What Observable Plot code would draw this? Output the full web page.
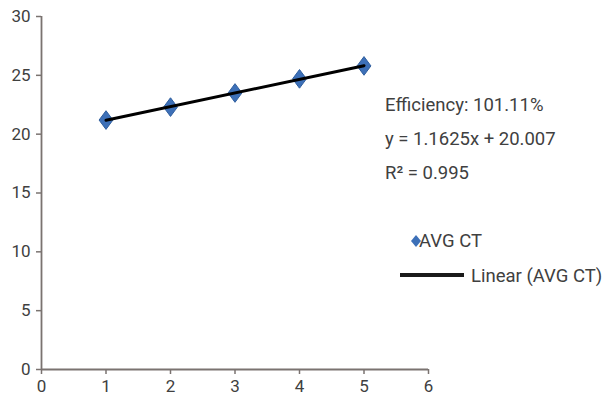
<!DOCTYPE html>
<html>
<head>
<meta charset="utf-8">
<script src="https://cdn.jsdelivr.net/npm/d3@7"></script>
<script src="https://cdn.jsdelivr.net/npm/@observablehq/plot@0.6"></script>
<style>
  html, body { margin: 0; padding: 0; background: #fff; }
  #wrap { position: relative; width: 603px; height: 395px; overflow: hidden; font-family: Roboto, sans-serif; color: #404040; }
  .ann { position: absolute; font-size: 18.5px; line-height: 20px; white-space: nowrap; }
</style>
</head>
<body>
<div id="wrap"></div>
<script>
const dilution = [1, 2, 3, 4, 5];
const avgCT = [21.2, 22.3, 23.5, 24.7, 25.8];
const xTicks = [0, 1, 2, 3, 4, 5, 6];
const yTicks = [0, 5, 10, 15, 20, 25, 30];
const annotationLines = ["Efficiency: 101.11%", "y = 1.1625x + 20.007", "R² = 0.995"];
const legendLabels = ["AVG CT", "Linear (AVG CT)"];

const data = dilution.map((x, i) => ({x, y: avgCT[i]}));

const tallDiamond = {
  draw(ctx, size) {
    const w = Math.sqrt(size) / 2;
    const h = w * 1.35;
    ctx.moveTo(0, -h); ctx.lineTo(w, 0); ctx.lineTo(0, h); ctx.lineTo(-w, 0); ctx.closePath();
  }
};

const axisColor = "#7a7370";

const chart = Plot.plot({
  width: 603,
  height: 395,
  marginLeft: 41,
  marginRight: 175,
  marginTop: 16,
  marginBottom: 26,
  style: { fontFamily: "Roboto, sans-serif", fontSize: "17px", color: "#404040", background: "transparent", overflow: "visible" },
  x: { domain: [0, 6] },
  y: { domain: [0, 30] },
  marks: [
    Plot.axisX({ ticks: xTicks, tickFormat: d3.format("d"), tickSize: 5, tickPadding: 5, stroke: axisColor, strokeWidth: 1.5, label: null, fill: "#404040" }),
    Plot.axisY({ ticks: yTicks, tickFormat: d3.format("d"), tickSize: 5, tickPadding: 6, stroke: axisColor, strokeWidth: 1.5, label: null, fill: "#404040" }),
    Plot.ruleY([0], { stroke: axisColor, strokeWidth: 1.8 }),
    Plot.ruleX([0], { stroke: axisColor, strokeWidth: 1.8 }),
    Plot.dot(data, { x: "x", y: "y", r: 7.8, symbol: tallDiamond, fill: "#3d70b8", stroke: "#2f5e9e", strokeWidth: 1 }),
    Plot.linearRegressionY(data, { x: "x", y: "y", ci: 0, stroke: "#000", strokeWidth: 3 })
  ]
});

const wrap = document.getElementById("wrap");
wrap.appendChild(chart);

// Trendline annotation
annotationLines.forEach((t, i) => {
  const d = document.createElement("div");
  d.className = "ann";
  d.style.left = "385px";
  d.style.top = (95 + i * 34) + "px";
  d.textContent = t;
  wrap.appendChild(d);
});

// Legend
const leg1 = document.createElement("div");
leg1.className = "ann";
leg1.style.left = "410px";
leg1.style.top = "231px";
leg1.innerHTML = '<svg width="12" height="14" style="vertical-align:-1px;margin-right:-3px"><path d="M6,1 L11,7 L6,13 L1,7 Z" fill="#3d70b8"/></svg>' + legendLabels[0];
wrap.appendChild(leg1);

const leg2 = document.createElement("div");
leg2.className = "ann";
leg2.style.left = "400px";
leg2.style.top = "266px";
leg2.innerHTML = '<svg width="64" height="10" style="vertical-align:2px;margin-right:7px"><line x1="0" y1="5" x2="64" y2="5" stroke="#1a1a1a" stroke-width="4"/></svg>' + legendLabels[1];
wrap.appendChild(leg2);
</script>
</body>
</html>
